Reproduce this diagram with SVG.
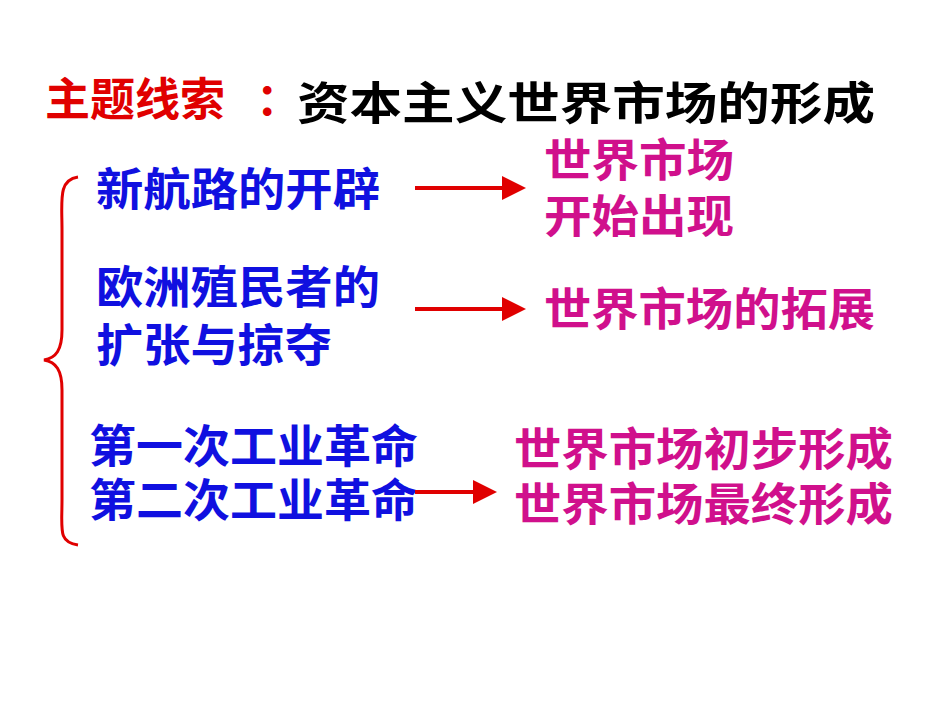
<svg xmlns="http://www.w3.org/2000/svg" width="950" height="713" viewBox="0 0 950 713">
<style>
text{font-family:"Noto Sans CJK SC",sans-serif;font-weight:bold;font-size:45px}
.b{fill:#1010e0}.m{fill:#d0108c}
</style>
<defs><marker id="ah" markerWidth="6" markerHeight="6" refX="5" refY="3" orient="auto"><path d="M0,0L6,3L0,6z" fill="#e00000"/></marker></defs>
<rect width="950" height="713" fill="#fff"/>
<g id="title"><text x="45" y="116" fill="#e00000" font-size="48">主题线索</text><text x="256" y="116" fill="#e00000" font-size="48">：</text><text x="297" y="120" fill="#000" font-size="50" textLength="578" lengthAdjust="spacingAndGlyphs">资本主义世界市场的形成</text></g>
<g id="brace"><path d="M78,177 C58,180 62,200 62,230 L62,330 C62,350 56,358 44,360 C56,362 62,370 62,390 L62,500 C62,530 58,542 78,545" fill="none" stroke="#e00000" stroke-width="3"/></g>
<g id="n1"><text class="b" x="96" y="206" textLength="284" lengthAdjust="spacingAndGlyphs">新航路的开辟</text></g>
<g id="n2"><text class="b" x="96" y="304" textLength="284" lengthAdjust="spacingAndGlyphs">欧洲殖民者的</text><text class="b" x="96" y="362" textLength="236" lengthAdjust="spacingAndGlyphs">扩张与掠夺</text></g>
<g id="n3"><text class="b" x="89" y="463" textLength="329" lengthAdjust="spacingAndGlyphs">第一次工业革命</text><text class="b" x="89" y="517" textLength="329" lengthAdjust="spacingAndGlyphs">第二次工业革命</text></g>
<g id="r1"><text class="m" x="544" y="177" textLength="190" lengthAdjust="spacingAndGlyphs">世界市场</text><text class="m" x="544" y="233" textLength="190" lengthAdjust="spacingAndGlyphs">开始出现</text></g>
<g id="r2"><text class="m" x="544" y="326" textLength="331" lengthAdjust="spacingAndGlyphs">世界市场的拓展</text></g>
<g id="r3"><text class="m" x="514" y="466" textLength="379" lengthAdjust="spacingAndGlyphs">世界市场初步形成</text><text class="m" x="514" y="521" textLength="379" lengthAdjust="spacingAndGlyphs">世界市场最终形成</text></g>
<g id="connectors" stroke="#e00000" stroke-width="4" marker-end="url(#ah)">
<line x1="415" y1="188" x2="522" y2="188"/>
<line x1="415" y1="309" x2="522" y2="309"/>
<line x1="415" y1="492" x2="493" y2="492"/>
</g>
</svg>
